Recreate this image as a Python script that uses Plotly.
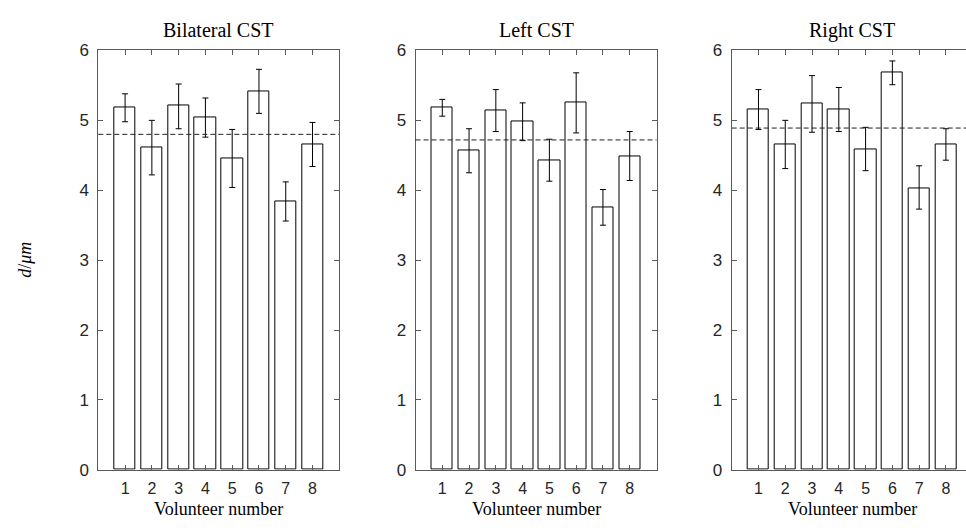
import plotly.graph_objects as go

# ---------------- data ----------------
volunteers = [1, 2, 3, 4, 5, 6, 7, 8]
panel_titles = ["Bilateral CST", "Left CST", "Right CST"]

bilateral_mean = [5.18, 4.61, 5.21, 5.04, 4.46, 5.41, 3.84, 4.65]
bilateral_err_up = [0.20, 0.39, 0.31, 0.28, 0.41, 0.32, 0.28, 0.32]
bilateral_err_dn = [0.20, 0.39, 0.33, 0.28, 0.42, 0.31, 0.28, 0.31]

left_mean = [5.18, 4.57, 5.14, 4.98, 4.43, 5.25, 3.75, 4.49]
left_err_up = [0.12, 0.31, 0.30, 0.27, 0.30, 0.43, 0.26, 0.35]
left_err_dn = [0.12, 0.32, 0.30, 0.27, 0.30, 0.43, 0.25, 0.35]

right_mean = [5.15, 4.65, 5.24, 5.15, 4.59, 5.68, 4.03, 4.66]
right_err_up = [0.29, 0.35, 0.40, 0.32, 0.31, 0.17, 0.32, 0.22]
right_err_dn = [0.28, 0.34, 0.41, 0.31, 0.31, 0.17, 0.30, 0.23]

overall_mean = [4.80, 4.72, 4.89]

y_ticks = [0, 1, 2, 3, 4, 5, 6]
x_label = "Volunteer number"
y_label = "<i>d</i>/<i>μm</i>"

# ---------------- layout geometry (px) ----------------
W, H = 966, 530
plot_w = 241.0
lefts = [98.3, 415.5, 731.7]
top_px, bot_px = 43.0, 478.0

AX_COLOR = "#5a5a5a"
TXT_COLOR = "#262626"
SANS = "Liberation Sans, Arial, sans-serif"
SERIF = "Liberation Serif, Times New Roman, serif"

fig = go.Figure()

series = [
    (bilateral_mean, bilateral_err_up, bilateral_err_dn),
    (left_mean, left_err_up, left_err_dn),
    (right_mean, right_err_up, right_err_dn),
]

annotations = []
shapes = []
for i, (vals, eu, ed) in enumerate(series):
    k = "" if i == 0 else str(i + 1)
    fig.add_trace(go.Bar(
        x=volunteers, y=vals, width=0.8,
        marker=dict(color="white", line=dict(color="black", width=1)),
        error_y=dict(type="data", symmetric=False, array=eu, arrayminus=ed,
                     color="black", thickness=1, width=3),
        xaxis="x" + k, yaxis="y" + k, showlegend=False,
    ))
    left = lefts[i]
    right = min(left + plot_w, W)
    xmax = 9.0 * (right - left) / plot_w
    dom = [left / W, right / W]
    fig.update_layout(**{
        "xaxis" + k: dict(
            domain=dom, range=[0, xmax], tickmode="array", tickvals=volunteers,
            ticktext=[str(v) for v in volunteers],
            ticks="inside", ticklen=5, tickcolor=AX_COLOR,
            showline=True, linecolor=AX_COLOR, linewidth=1, mirror="ticks",
            showgrid=False, zeroline=False, anchor="y" + k,
            tickfont=dict(family=SANS, size=16, color=TXT_COLOR),
            ticklabelstandoff=4,
        ),
        "yaxis" + k: dict(
            domain=[(H - bot_px) / H, (H - top_px) / H], range=[0, 6],
            tickmode="array", tickvals=y_ticks,
            ticktext=[str(v) for v in y_ticks],
            ticks="inside", ticklen=5, tickcolor=AX_COLOR,
            showline=True, linecolor=AX_COLOR, linewidth=1,
            mirror=("ticks" if i < 2 else False),
            showgrid=False, zeroline=False, anchor="x" + k,
            tickfont=dict(family=SANS, size=17, color=TXT_COLOR),
            ticklabelstandoff=5,
        ),
    })
    # dashed mean line
    shapes.append(dict(type="line", xref="x" + k + " domain", yref="y" + k,
                       x0=0, x1=1, y0=overall_mean[i], y1=overall_mean[i],
                       line=dict(color="#222222", width=1, dash="5px,3px"),
                       layer="above"))
    cx = (left + plot_w / 2) / W
    annotations.append(dict(text=panel_titles[i], xref="paper", yref="paper",
                            x=cx, y=(H - 22) / H, xanchor="center", yanchor="middle",
                            showarrow=False,
                            font=dict(family=SERIF, size=20, color="black")))
    annotations.append(dict(text=x_label, xref="paper", yref="paper",
                            x=cx, y=0, xanchor="center", yanchor="bottom",
                            showarrow=False, borderpad=0,
                            font=dict(family=SERIF, size=18, color="black")))

annotations.append(dict(text=y_label, xref="paper", yref="paper",
                        x=25 / W, y=(H - 260) / H, xanchor="center", yanchor="middle",
                        textangle=-90, showarrow=False,
                        font=dict(family=SERIF, size=18, color="black")))

fig.update_layout(
    width=W, height=H, margin=dict(l=0, r=0, t=0, b=0),
    paper_bgcolor="white", plot_bgcolor="white",
    annotations=annotations, shapes=shapes, bargap=0,
)

fig.write_html("out.html")
